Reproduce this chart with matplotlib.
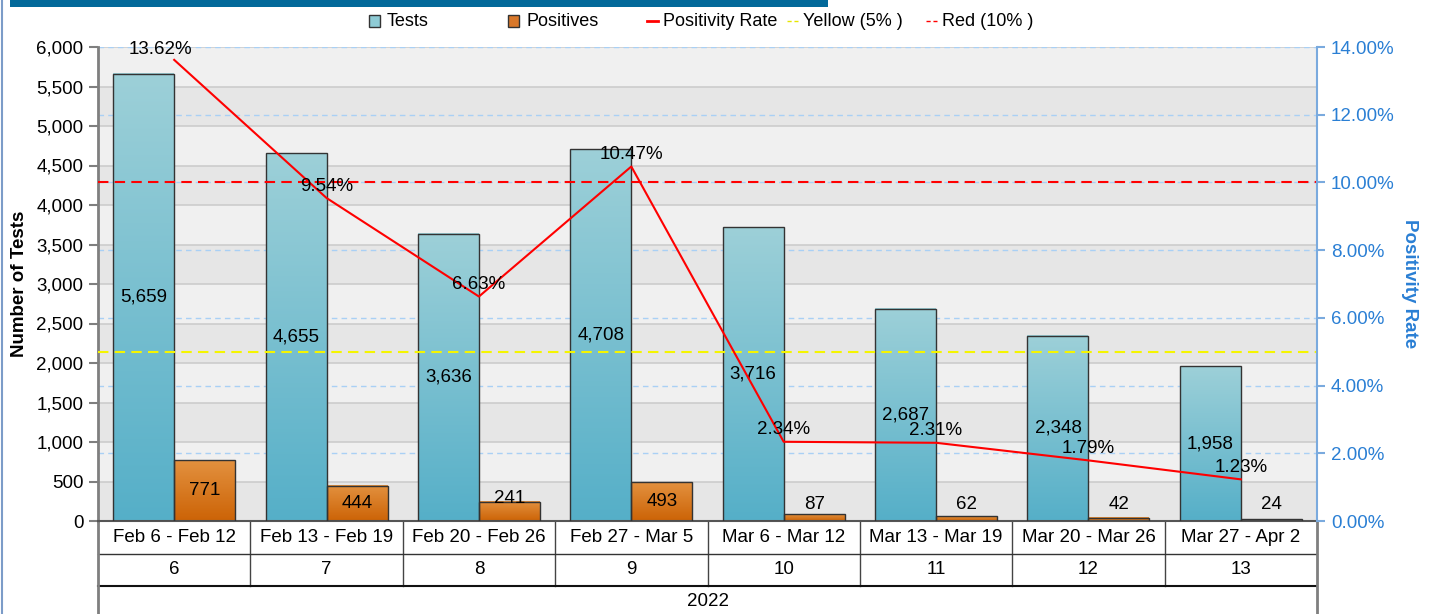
import matplotlib
matplotlib.use('Agg')
import matplotlib.pyplot as plt
import matplotlib.transforms as mtransforms
from matplotlib.colors import LinearSegmentedColormap
from matplotlib.lines import Line2D
from matplotlib.patches import Rectangle
from matplotlib.ticker import FuncFormatter
import numpy as np

# data
weeks = ['Feb 6 - Feb 12', 'Feb 13 - Feb 19', 'Feb 20 - Feb 26', 'Feb 27 - Mar 5',
         'Mar 6 - Mar 12', 'Mar 13 - Mar 19', 'Mar 20 - Mar 26', 'Mar 27 - Apr 2']
week_nums = ['6', '7', '8', '9', '10', '11', '12', '13']
year = '2022'
tests = [5659, 4655, 3636, 4708, 3716, 2687, 2348, 1958]
positives = [771, 444, 241, 493, 87, 62, 42, 24]
rate = [13.62, 9.54, 6.63, 10.47, 2.34, 2.31, 1.79, 1.23]
yellow_level = 5
red_level = 10

plt.rcParams['font.family'] = ['Liberation Sans', 'DejaVu Sans']

W, H = 1429, 614
fig = plt.figure(figsize=(W / 100, H / 100), dpi=100)
ax = fig.add_axes([98 / W, 1 - 521 / H, (1317 - 98) / W, (521 - 47) / H])
ax2 = ax.twinx()

x = np.arange(len(weeks))
bw = 0.4


def gradient_bars(ax, xs, heights, width, top, bottom):
    # each bar filled with its own vertical gradient, then outlined
    cmap = LinearSegmentedColormap.from_list('grad', [bottom, top])
    grad = np.linspace(0, 1, 256).reshape(-1, 1)
    for xc, h in zip(xs, heights):
        ax.imshow(grad, cmap=cmap, origin='lower', aspect='auto',
                  extent=(xc - width / 2, xc + width / 2, 0, h), zorder=2)
    ax.bar(xs, heights, width, facecolor='none', edgecolor='#333333',
           linewidth=1, zorder=3)


# background bands + grid
ax.set_facecolor('#f0f0f0')
for lo in range(0, 6000, 1000):
    ax.axhspan(lo, lo + 500, color='#e6e6e6', zorder=0, lw=0)
ax.set_axisbelow(True)
ax.yaxis.grid(True, color='#cccccc', lw=1.2)

pct_ticks = np.arange(0, 15, 2)
blend = mtransforms.blended_transform_factory(ax.transAxes, ax2.transData)
for t in pct_ticks[1:]:
    ax.add_artist(Line2D([0, 1], [t, t], transform=blend, color='#a9d0f5',
                         lw=1, ls=(0, (4, 3)), zorder=0.8))

gradient_bars(ax, x - bw / 2, tests, bw, '#9dd0d8', '#55afc8')
gradient_bars(ax, x + bw / 2, positives, bw, '#e3913f', '#cc6306')

for i in range(len(x)):
    ax.text(x[i] - bw / 2, tests[i] / 2, f'{tests[i]:,}', ha='center',
            va='center', fontsize=13.5, zorder=4)
    v = positives[i]
    ypos = v / 2 if v / 2 > 215 else max(215, v + 50)
    ax.text(x[i] + bw / 2, ypos, f'{v:,}', ha='center', va='center',
            fontsize=13.5, zorder=4)

ax.set_xlim(-0.5, len(weeks) - 0.5)
ax.set_ylim(0, 6000)
ax.set_yticks(np.arange(0, 6001, 500))
ax.yaxis.set_major_formatter(FuncFormatter(lambda v, p: f'{int(v):,}'))
ax.set_xticks([])
ax.tick_params(axis='y', length=6.5, width=1.5, color='#7f7f7f',
               labelsize=13.5, pad=4)
for s in ['top', 'right']:
    ax.spines[s].set_visible(False)
ax.spines['left'].set_color('#7f7f7f')
ax.spines['left'].set_linewidth(2)
ax.spines['bottom'].set_color('#555555')
ax.spines['bottom'].set_linewidth(1.5)
ax.set_ylabel('Number of Tests', fontweight='bold', fontsize=13.5, va='center')
ax.yaxis.set_label_coords((20 - 98) / 1219, 0.5)

# percentage axis
ax2.axhline(red_level, color='#ff0000', ls=(0, (5, 3)), lw=1.5, zorder=2)
ax2.axhline(yellow_level, color='#f5f500', ls=(0, (5, 3)), lw=1.5, zorder=2)
ax2.plot(x, rate, color='#ff0000', lw=1.5, zorder=3)
for i, r in enumerate(rate):
    off = (-14, 10) if i == 0 else (0, 12)
    ax2.annotate(f'{r:.2f}%', (x[i], r), xytext=off, textcoords='offset pixels',
                 ha='center', va='center', fontsize=13.5, zorder=4)
ax2.set_ylim(0, 14)
ax2.set_yticks(pct_ticks)
ax2.yaxis.set_major_formatter(FuncFormatter(lambda v, p: f'{v:.2f}%'))
ax2.tick_params(axis='y', length=6, width=1.5, color='#7aaade',
                labelcolor='#2a7fd4', labelsize=13.5, pad=4)
for s in ['top', 'left', 'bottom']:
    ax2.spines[s].set_visible(False)
ax2.spines['right'].set_color('#7aaade')
ax2.spines['right'].set_linewidth(1.5)
ax2.set_ylabel('Positivity Rate', fontweight='bold', fontsize=13.5,
               color='#2a7fd4', rotation=270, va='center')
ax2.yaxis.set_label_coords((1410 - 98) / 1219, 0.5)

# category table under the plot
tbl = mtransforms.blended_transform_factory(ax.transData, ax.transAxes)
row_h = 32.5 / 474
bottom_y = -(H - 521 + 5) / 474
for k in range(1, len(weeks)):
    ax.add_artist(Line2D([k - 0.5, k - 0.5], [0, -2 * row_h], transform=tbl,
                         color='#444444', lw=1, clip_on=False))
ax.add_artist(Line2D([-0.5, len(weeks) - 0.5], [-row_h, -row_h], transform=tbl,
                     color='#333333', lw=1, clip_on=False))
ax.add_artist(Line2D([-0.5, len(weeks) - 0.5], [-2 * row_h, -2 * row_h],
                     transform=tbl, color='#111111', lw=1.5, clip_on=False))
for xb in [-0.5, len(weeks) - 0.5]:
    ax.add_artist(Line2D([xb, xb], [0, bottom_y], transform=tbl,
                         color='#7f7f7f', lw=2, clip_on=False))
for i in range(len(weeks)):
    ax.text(x[i], -row_h / 2, weeks[i], transform=tbl, ha='center',
            va='center', fontsize=13.5, clip_on=False)
    ax.text(x[i], -1.5 * row_h, week_nums[i], transform=tbl, ha='center',
            va='center', fontsize=13.5, clip_on=False)
ax.text((len(weeks) - 1) / 2, -(601 - 521) / 474, year, transform=tbl,
        ha='center', va='center', fontsize=13.5, clip_on=False)

# legend, laid out by hand like the original
legend_items = [('box', '#8ecbd5', 'Tests'), ('box', '#d9782a', 'Positives'),
                ('line', '#ff0000', 'Positivity Rate'),
                ('dash', '#e6e600', 'Yellow (5% )'), ('dash', '#ff0000', 'Red (10% )')]
legend_px = [369, 508, 647, 787, 926]
ly = 1 - 21 / H
for (kind, col, lab), px in zip(legend_items, legend_px):
    if kind == 'box':
        fig.add_artist(Rectangle((px / W, ly - 5.5 / H), 11 / W, 11 / H,
                                 transform=fig.transFigure, facecolor=col,
                                 edgecolor='#333333', lw=1))
        tx = px + 18
    else:
        ls = '-' if kind == 'line' else (0, (3, 2))
        lw = 2 if kind == 'line' else 1
        fig.add_artist(Line2D([px / W, (px + 11) / W], [ly, ly], color=col,
                              lw=lw, ls=ls, transform=fig.transFigure))
        tx = px + 16
    fig.text(tx / W, ly, lab, ha='left', va='center', fontsize=13)

# header strip and frame edge
fig.add_artist(Rectangle((10 / W, 1 - 7 / H), (828 - 10) / W, 7 / H,
                         transform=fig.transFigure, color='#03699a', lw=0))
fig.add_artist(Line2D([1.5 / W, 1.5 / W], [0, 1], color='#7c9cc8', lw=1.5,
                      transform=fig.transFigure))

fig.savefig('out.png', dpi=100)
